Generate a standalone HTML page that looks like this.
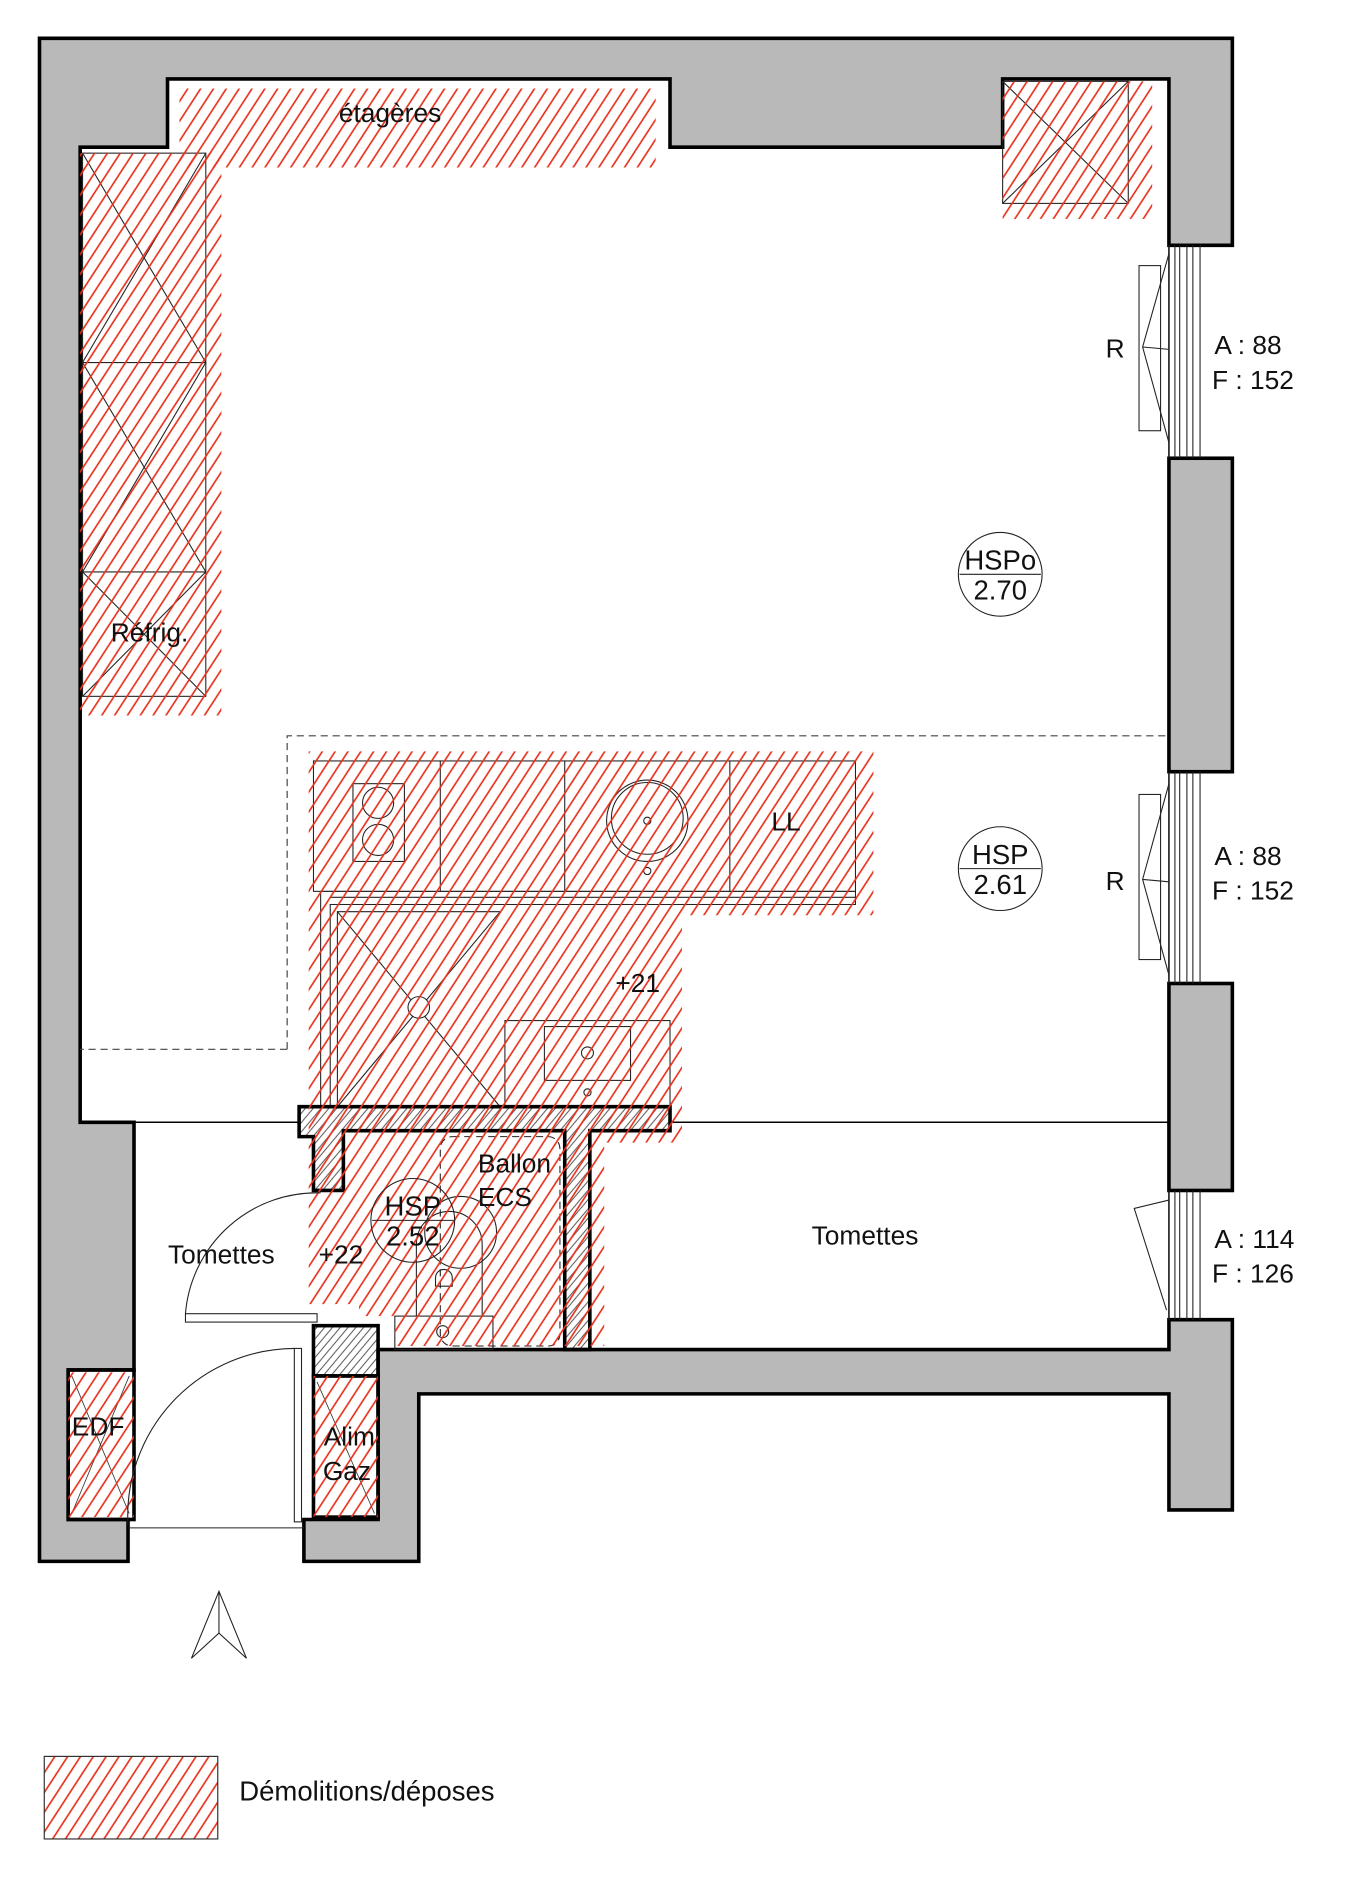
<!DOCTYPE html>
<html><head><meta charset="utf-8"><style>
html,body{margin:0;padding:0;background:#fff}
svg{display:block}
text{font-family:"Liberation Sans",sans-serif;fill:#111}
</style></head><body>
<svg width="1352" height="1891" viewBox="0 0 1130 1580.5" xmlns="http://www.w3.org/2000/svg">
<defs>
<pattern id="h" patternUnits="userSpaceOnUse" width="9" height="30" patternTransform="rotate(33)">
<line x1="1" y1="0" x2="1" y2="30" stroke="#e8321e" stroke-width="1.4"/>
</pattern>
<pattern id="k" patternUnits="userSpaceOnUse" width="5" height="20" patternTransform="rotate(40)">
<line x1="1" y1="0" x2="1" y2="20" stroke="#333" stroke-width="0.7"/>
</pattern>
</defs>

<!-- walls -->
<g fill="#b9b9b9" stroke="#000" stroke-width="3" stroke-linejoin="miter">
<path d="M33,32 H1030 V205 H977 V66 H838 V123 H560 V66 H140 V123 H67 V938 H112 V1145 H57 V1270 H107 V1305 H33 Z"/>
<rect x="977" y="383" width="53" height="262"/>
<rect x="977" y="822" width="53" height="173"/>
<path d="M977,1103 H1030 V1262 H977 V1165 H350 V1305 H254 V1270 H316 V1128 H977 Z"/>
</g>

<!-- room lines -->
<g stroke="#000" stroke-width="1.3" fill="none">
<line x1="112" y1="938" x2="250" y2="938"/>
<line x1="560" y1="938" x2="977" y2="938"/>
<line x1="977" y1="205" x2="977" y2="1128"/>
</g>
<path d="M240,877 V615 H977 M240,877 H67" fill="none" stroke="#444" stroke-width="1" stroke-dasharray="6,4"/>

<!-- cabinets -->
<g stroke="#222" stroke-width="0.9" fill="none">
<rect x="69" y="128" width="103" height="454"/>
<line x1="69" y1="303" x2="172" y2="303"/><line x1="69" y1="478" x2="172" y2="478"/>
<path d="M69,303 L172,128 M69,128 L172,303 M69,478 L172,303 M69,303 L172,478 M69,582 L172,478 M69,478 L172,582"/>
<rect x="838" y="68" width="105" height="102"/>
<path d="M838,68 L943,170 M943,68 L838,170"/>
<rect x="262" y="636" width="453" height="109"/>
<line x1="368" y1="636" x2="368" y2="745"/><line x1="472" y1="636" x2="472" y2="745"/><line x1="610" y1="636" x2="610" y2="745"/>
<rect x="295" y="655" width="43" height="65"/>
<circle cx="316" cy="671" r="13"/><circle cx="316" cy="702" r="13"/>
<circle cx="541" cy="686" r="34"/><circle cx="541" cy="684" r="30"/><circle cx="541" cy="686" r="3"/><circle cx="541" cy="728" r="3"/>
<path d="M268,925 V745 H715 V756 H276 V925 M276,750 H715 M282,925 V762 H418"/>
<path d="M282,925 L418,762 M282,762 L418,925"/>
<circle cx="350" cy="842" r="9" fill="#fff"/>
<rect x="422" y="853" width="138" height="72"/>
<rect x="455" y="858" width="72" height="45"/>
<circle cx="491" cy="880" r="5"/><circle cx="491" cy="913" r="3"/>
<rect x="368" y="950" width="100" height="175" rx="10" stroke-dasharray="6,4"/>
<path d="M348,1100 V1040 A27,27 0 0 1 403,1040 V1100"/>
<circle cx="385" cy="1030" r="30"/>
<rect x="330" y="1100" width="82" height="28"/>
<circle cx="370" cy="1113" r="5"/>
<path d="M364,1075 V1068 A7,7 0 0 1 378,1068 V1075 Z"/>
</g>

<!-- partition walls -->
<g stroke="#000" stroke-width="3">
<path d="M250,925 H560 V945 H493 V1128 H472 V945 H287 V995 H262 V950 H250 Z" fill="url(#k)"/>
<rect x="262" y="1108" width="54" height="42" fill="url(#k)"/>
</g>
<rect x="57" y="1145" width="55" height="125" fill="none" stroke="#000" stroke-width="3"/>
<rect x="262" y="1150" width="54" height="118" fill="none" stroke="#000" stroke-width="3"/>
<path d="M60,1150 L108,1265 M108,1150 L60,1265 M265,1155 L313,1265" stroke="#333" stroke-width="0.7"/>

<!-- hatch areas -->
<g fill="url(#h)">
<rect x="150" y="74" width="398" height="66"/>
<rect x="838" y="68" width="125" height="115"/>
<rect x="67" y="128" width="118" height="470"/>
<path d="M258,628 H730 V765 H570 V955 H505 V1125 H330 V1100 H300 V1090 H258 Z"/>
<rect x="57" y="1147" width="55" height="121"/>
<rect x="262" y="1150" width="54" height="118"/>
</g>

<!-- windows -->
<g stroke="#222" stroke-width="0.9" fill="none">
<rect x="952" y="222" width="18" height="138"/>
<path d="M977,212 L955,290 L977,370 M955,290 L977,292"/>
<path d="M977,205 V383 M982,205 V383 M986,205 V383 M992,205 V383 M997,205 V383 M1003,205 V383"/>
<rect x="952" y="664" width="18" height="138"/>
<path d="M977,655 L955,735 L977,815 M955,735 L977,737"/>
<path d="M977,645 V822 M982,645 V822 M986,645 V822 M992,645 V822 M997,645 V822 M1003,645 V822"/>
<path d="M977,1003 L948,1010 L975,1095"/>
<path d="M977,995 V1103 M982,995 V1103 M986,995 V1103 M992,995 V1103 M997,995 V1103 M1003,995 V1103"/>
<!-- doors -->
<rect x="155" y="1098" width="110" height="7" fill="#fff"/>
<path d="M155,1098 A110,110 0 0 1 268,997"/>
<rect x="246" y="1127" width="6" height="145" fill="#fff"/>
<path d="M107,1275 A140,140 0 0 1 246,1127"/>
<line x1="107" y1="1277" x2="254" y2="1277"/>
<!-- symbols -->
<circle cx="836" cy="480" r="35"/><line x1="802" y1="480" x2="870" y2="480"/>
<circle cx="836" cy="726" r="35"/><line x1="802" y1="726" x2="870" y2="726"/>
<circle cx="345" cy="1020" r="35"/><line x1="311" y1="1020" x2="379" y2="1020"/>
<path d="M183,1330 L160,1386 L183,1365 L206,1386 Z M183,1330 V1365"/>
</g>
<g font-family="Liberation Sans,sans-serif" fill="#555" font-size="23">
<text x="836" y="476" text-anchor="middle">HSPo</text><text x="836" y="501" text-anchor="middle">2.70</text>
<text x="836" y="722" text-anchor="middle">HSP</text><text x="836" y="747" text-anchor="middle">2.61</text>
<text x="345" y="1016" text-anchor="middle">HSP</text><text x="345" y="1041" text-anchor="middle">2.52</text>
</g>

<!-- labels -->
<g font-size="22">
<text x="326" y="102" text-anchor="middle">étagères</text>
<text x="125" y="536" text-anchor="middle">Réfrig.</text>
<text x="657" y="694" text-anchor="middle">LL</text>
<text x="533" y="829" text-anchor="middle">+21</text>
<text x="430" y="980" text-anchor="middle">Ballon</text>
<text x="422" y="1008" text-anchor="middle">ECS</text>
<text x="185" y="1056" text-anchor="middle">Tomettes</text>
<text x="285" y="1056" text-anchor="middle">+22</text>
<text x="723" y="1040" text-anchor="middle">Tomettes</text>
<text x="82" y="1200" text-anchor="middle">EDF</text>
<text x="295" y="1208" text-anchor="middle">Alim.</text>
<text x="290" y="1237" text-anchor="middle">Gaz</text>
<text x="932" y="299" text-anchor="middle">R</text>
<text x="932" y="744" text-anchor="middle">R</text>
<text x="1015" y="296">A : 88</text><text x="1013" y="325">F : 152</text>
<text x="1015" y="723">A : 88</text><text x="1013" y="752">F : 152</text>
<text x="1015" y="1043">A : 114</text><text x="1013" y="1072">F : 126</text>
<text x="200" y="1505" font-size="23">Démolitions/déposes</text>
</g>
<rect x="37" y="1468" width="145" height="69" fill="url(#h)" stroke="#333" stroke-width="1"/>
</svg>
</body></html>
